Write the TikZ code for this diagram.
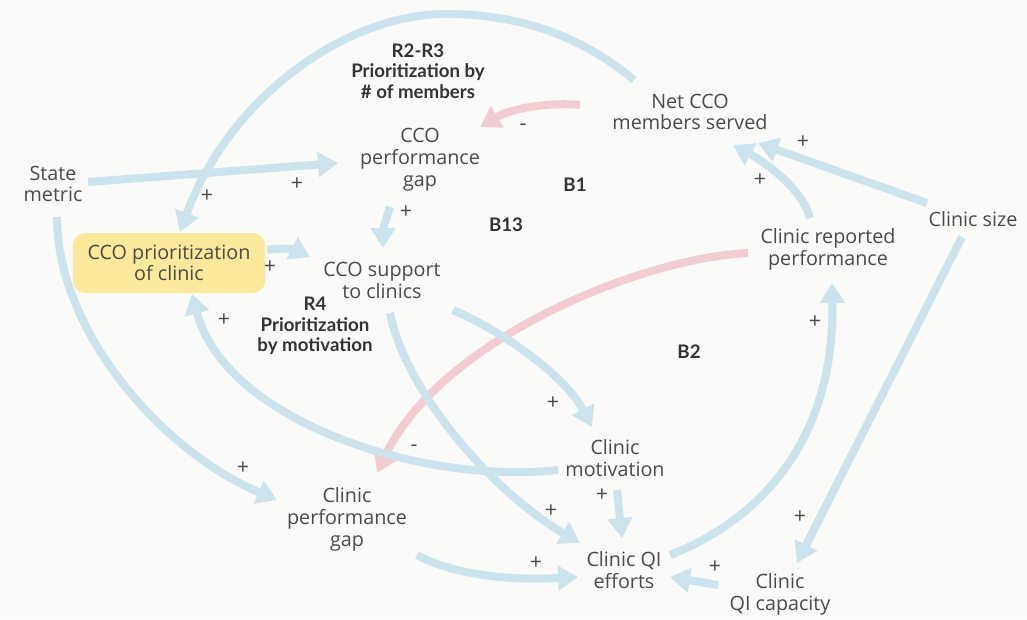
\documentclass[tikz,border=0pt]{standalone}
\usepackage{fontspec}
\setmainfont{Open Sans}
\newfontfamily\loopfont{Lato}
\usetikzlibrary{arrows.meta,calc}
\definecolor{bgc}{HTML}{FAFAF8}
\definecolor{lnblue}{HTML}{CBE3EC}
\definecolor{lnred}{HTML}{F3CCD2}
\definecolor{boxy}{HTML}{FCE99B}
\definecolor{txt}{HTML}{4A4A4A}
\definecolor{txtb}{HTML}{333333}
\tikzset{
  var/.style={text=txt,align=center,font=\fontsize{14.8}{16.4}\selectfont,inner sep=0pt},
  loopname/.style={text=txtb,align=center,font=\loopfont\fontsize{14}{15.5}\selectfont\bfseries,inner sep=0pt},
  sgn/.style={text=txt,font=\fontsize{16}{16}\selectfont,inner sep=0pt},
  poslink/.style={draw=lnblue,line width=6pt,-{Triangle[length=15pt,width=18pt]}},
  neglink/.style={draw=lnred,line width=6pt,-{Triangle[length=15pt,width=18pt]}},
  prbox/.style={fill=boxy,rounded corners=9pt,minimum width=144pt,minimum height=45pt,text=txt,align=center,font=\fontsize{14.8}{15.5}\selectfont,inner sep=0pt}
}
\begin{document}
\begin{tikzpicture}[x=0.75pt,y=-0.75pt]
\fill[bgc] (0,0) rectangle (1027,619);
\useasboundingbox (0,0) rectangle (1027,619);

% variables
\node[prbox] (prio) at (169,263) {CCO prioritization\\of clinic};
\node[var] (state) at (53,184) {State\\metric};
\node[var] (ccogap) at (420,160) {CCO\\performance\\gap};
\node[var] (net) at (690,112) {Net CCO\\members served};
\node[var] (support) at (382,280) {CCO support\\to clinics};
\node[var] (crp) at (828,249) {Clinic reported\\performance};
\node[var] (size) at (973,219) {Clinic size};
\node[var] (motiv) at (615,458) {Clinic\\motivation};
\node[var] (cgap) at (347,519) {Clinic\\performance\\gap};
\node[var] (qie) at (624,570) {Clinic QI\\efforts};
\node[var] (qic) at (780,594) {Clinic\\QI capacity};

% loop names
\node[loopname] (r23) at (418,71) {R2-R3\\Prioritization by\\\# of members};
\node[loopname] (r4) at (315,326) {R4\\Prioritization\\by motivation};
\node[loopname] (b1) at (575,185) {B1};
\node[loopname] (b13) at (506,225) {B13};
\node[loopname] (b2) at (689,352) {B2};

% connectors
\draw[poslink] ($(net)+(-56,-32)$) .. controls (580,35) and (520,15) .. (450,14)
   .. controls (345,12) and (228,100) .. ($(prio)+(11,-31)$);
\draw[poslink] ($(state)+(35,-2)$) -- ($(ccogap)+(-82,3)$);
\draw[poslink] ($(ccogap)+(-30,47)$) .. controls (386,220) and (383,228) .. ($(support)+(1,-32)$);
\draw[poslink] ($(prio)+(98,-13)$) .. controls (282,247) and (296,250) .. ($(support)+(-72,-23)$);
\draw[neglink] ($(net)+(-110,-7)$) .. controls (550,102) and (512,108) .. ($(ccogap)+(60,-33)$);
\draw[poslink] ($(crp)+(-18,-31)$) .. controls (804,193) and (772,166) .. ($(net)+(43,33)$);
\draw[poslink] ($(size)+(-46,-16)$) -- ($(net)+(68,31)$);
\draw[neglink] ($(crp)+(-80,4)$) .. controls (640,258) and (440,340) .. ($(cgap)+(30,-46)$);
\draw[poslink] ($(motiv)+(-57,12)$) .. controls (420,485) and (225,420) .. ($(prio)+(23,31)$);
\draw[poslink] ($(support)+(8,33)$) .. controls (405,390) and (490,490) .. ($(qie)+(-44,-27)$);
\draw[poslink] ($(support)+(71,30)$) .. controls (500,330) and (565,375) .. ($(motiv)+(-23,-31)$);
\draw[poslink] ($(state)+(4,33)$) .. controls (57,330) and (160,450) .. ($(cgap)+(-70,-19)$);
\draw[poslink] ($(motiv)+(2,32)$) -- ($(qie)+(-2,-32)$);
\draw[poslink] ($(cgap)+(70,36)$) .. controls (460,578) and (520,580) .. ($(qie)+(-46,7)$);
\draw[poslink] ($(qie)+(46,-15)$) .. controls (760,520) and (835,440) .. ($(crp)+(4,34)$);
\draw[poslink] ($(size)+(-11,18)$) -- ($(qic)+(17,-31)$);
\draw[poslink] ($(qic)+(-62,-9)$) -- ($(qie)+(46,7)$);

% polarity signs
\node[sgn] (s1) at (207,196) {+};
\node[sgn] (s2) at (297,184) {+};
\node[sgn] (s3) at (406,212) {+};
\node[sgn] (s4) at (270,267) {+};
\node[sgn] (s5) at (523,127) {-};
\node[sgn] (s6) at (803,142) {+};
\node[sgn] (s7) at (760,180) {+};
\node[sgn] (s8) at (224,320) {+};
\node[sgn] (s9) at (414,448) {-};
\node[sgn] (s10) at (243,468) {+};
\node[sgn] (s11) at (553,403) {+};
\node[sgn] (s12) at (815,322) {+};
\node[sgn] (s13) at (602,495) {+};
\node[sgn] (s14) at (551,511) {+};
\node[sgn] (s15) at (536,563) {+};
\node[sgn] (s16) at (715,567) {+};
\node[sgn] (s17) at (800,517) {+};
\end{tikzpicture}
\end{document}
